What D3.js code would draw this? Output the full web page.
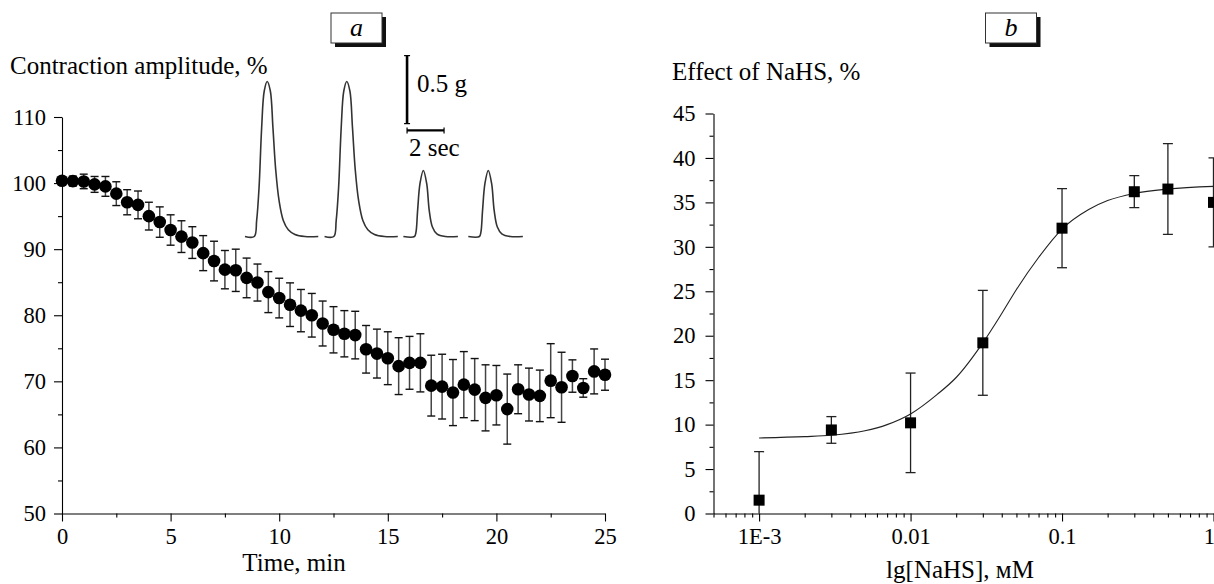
<!DOCTYPE html>
<html>
<head>
<meta charset="utf-8">
<script src="https://cdn.jsdelivr.net/npm/d3@7"></script>
<style>
  body { margin: 0; background: #fff; }
  svg text { font-family: "Liberation Serif", "DejaVu Serif", serif !important; fill: #000; }
</style>
</head>
<body>
<svg id="canvas" width="1214" height="584" font-family="Liberation Serif"></svg>
<script>
// panel a: contraction amplitude over time
const timeMin = [0, 0.5, 1, 1.5, 2, 2.5, 3, 3.5, 4, 4.5, 5, 5.5, 6, 6.5, 7, 7.5, 8, 8.5, 9, 9.5,
  10, 10.5, 11, 11.5, 12, 12.5, 13, 13.5, 14, 14.5, 15, 15.5, 16, 16.5, 17, 17.5, 18, 18.5, 19, 19.5,
  20, 20.5, 21, 21.5, 22, 22.5, 23, 23.5, 24, 24.5, 25];
const amplitude = [100.35, 100.3, 100.25, 99.8, 99.5, 98.4, 97.1, 96.7, 95.0, 94.1, 92.9, 91.9, 91.0, 89.4,
  88.2, 86.9, 86.8, 85.65, 84.95, 83.5, 82.6, 81.6, 80.7, 80.0, 78.75, 77.8, 77.2, 77.0, 74.85, 74.2,
  73.5, 72.3, 72.8, 72.8, 69.35, 69.2, 68.3, 69.5, 68.75, 67.5, 67.9, 65.8, 68.8, 68.0, 67.8, 70.1,
  69.1, 70.8, 69.0, 71.5, 71.0];
const amplitudeErr = [0.6, 0.76, 1.1, 1.2, 1.5, 1.8, 1.9, 2.1, 2.1, 2.3, 2.3, 2.4, 2.4, 2.65, 3.0, 2.9,
  3.2, 3.0, 2.8, 3.1, 3.0, 3.3, 3.2, 3.3, 3.4, 3.5, 3.5, 3.6, 3.6, 3.7, 4.0, 4.3, 4.0, 4.4, 4.6, 4.9,
  5.0, 5.0, 4.7, 5.0, 4.5, 5.3, 3.7, 4.0, 3.9, 5.6, 5.3, 2.45, 1.4, 3.4, 2.35];
const timeTicks = [0, 5, 10, 15, 20, 25];
const amplitudeTicks = [50, 60, 70, 80, 90, 100, 110];

// inset traces: [seconds from sweep start, grams]
const bigTwitch = [[0, 0], [0.5, 0], [0.63, 0.118], [0.76, 0.36], [0.9, 0.8], [1.04, 1.07], [1.2, 1.14],
  [1.37, 1.07], [1.51, 0.8], [1.66, 0.49], [1.84, 0.265], [2.07, 0.118], [2.34, 0.05], [2.7, 0.015],
  [3.24, 0], [3.96, 0]];
const smallTwitch = [[0, 0], [0.6, 0], [0.68, 0.03], [0.77, 0.19], [0.9, 0.39], [1.08, 0.485], [1.26, 0.39],
  [1.4, 0.19], [1.57, 0.07], [1.81, 0.02], [2.27, 0], [2.95, 0]];
const sweepStart = [0, 4.3, 8.56, 12.07];
const sweepShape = [bigTwitch, bigTwitch, smallTwitch, smallTwitch];

// panel b: concentration-effect
const nahsConc = [0.001, 0.003, 0.01, 0.03, 0.1, 0.3, 0.5, 1];
const nahsEffect = [1.5, 9.4, 10.2, 19.2, 32.1, 36.2, 36.5, 35.0];
const nahsErr = [5.45, 1.5, 5.6, 5.9, 4.45, 1.8, 5.1, 5.0];
const fitConc = [0.001, 0.002, 0.003, 0.005, 0.007, 0.01, 0.015, 0.02, 0.03, 0.04, 0.05, 0.07, 0.1,
  0.15, 0.2, 0.3, 0.5, 1];
const fitEffect = [8.5, 8.65, 8.8, 9.3, 10.0, 11.2, 13.4, 15.3, 19.2, 22.5, 25.2, 28.8, 32.0,
  34.2, 35.2, 36.0, 36.5, 36.8];
const concTicks = [0.001, 0.01, 0.1, 1];
const concLabels = ["1E-3", "0.01", "0.1", "1"];
const effectTicks = [0, 5, 10, 15, 20, 25, 30, 35, 40, 45];

const FONT = "'Liberation Serif', 'DejaVu Serif', serif";
const canvas = d3.select("#canvas");

const xA = d3.scaleLinear().domain([0, 25]).range([62, 605]);
const yA = d3.scaleLinear().domain([50, 110]).range([513.5, 117]);
const xB = d3.scaleLog().domain([0.0005, 1]).range([713.5, 1213.5]);
const yB = d3.scaleLinear().domain([0, 45]).range([513.5, 113.5]);

const styleAxis = (sel) => {
  sel.attr("font-family", FONT);
  sel.selectAll("path, line").attr("stroke", "#000").attr("stroke-width", 1.1);
  sel.selectAll("text").attr("font-size", 22.5).style("font-family", FONT);
};
const label = (parent, x, y, size, txt) =>
  parent.append("text").attr("x", x).attr("y", y).attr("font-size", size)
    .style("font-family", FONT).text(txt);

// ---- panel a axes
const gA = canvas.append("g");
gA.append("g")
  .attr("transform", `translate(0,${yA(50)})`)
  .call(d3.axisBottom(xA).tickValues(timeTicks).tickSize(8).tickSizeOuter(0).tickPadding(7))
  .call(styleAxis);
gA.append("g")
  .attr("transform", `translate(0,${yA(50)})`)
  .call(d3.axisBottom(xA).tickValues([2.5, 7.5, 12.5, 17.5, 22.5]).tickSize(4).tickFormat(""))
  .call(styleAxis)
  .select(".domain").remove();
gA.append("g")
  .attr("transform", `translate(${xA(0)},0)`)
  .call(d3.axisLeft(yA).tickValues(amplitudeTicks).tickSize(8).tickSizeOuter(0).tickPadding(8))
  .call(styleAxis);
gA.append("g")
  .attr("transform", `translate(${xA(0)},0)`)
  .call(d3.axisLeft(yA).tickValues([55, 65, 75, 85, 95, 105]).tickSize(4).tickFormat(""))
  .call(styleAxis)
  .select(".domain").remove();

label(gA, 10, 74, 25, "Contraction amplitude, %");
label(gA, 294, 571, 25, "Time, min").attr("text-anchor", "middle");

// error bars and points
const ptsA = gA.append("g").selectAll("g").data(timeMin).join("g");
ptsA.append("line")
  .attr("x1", (d) => xA(d)).attr("x2", (d) => xA(d))
  .attr("y1", (d, i) => yA(amplitude[i] + amplitudeErr[i]))
  .attr("y2", (d, i) => yA(amplitude[i] - amplitudeErr[i]))
  .attr("stroke", "#444").attr("stroke-width", 1.5);
[1, -1].forEach((s) => {
  ptsA.append("line")
    .attr("x1", (d) => xA(d) - 4).attr("x2", (d) => xA(d) + 4)
    .attr("y1", (d, i) => yA(amplitude[i] + s * amplitudeErr[i]))
    .attr("y2", (d, i) => yA(amplitude[i] + s * amplitudeErr[i]))
    .attr("stroke", "#111").attr("stroke-width", 1.4);
});
ptsA.append("circle")
  .attr("cx", (d) => xA(d))
  .attr("cy", (d, i) => yA(amplitude[i]))
  .attr("r", 6.3)
  .attr("fill", "#000");

// ---- inset with twitch recordings
const xI = d3.scaleLinear().domain([0, 1]).range([245, 263.5]);
const yI = d3.scaleLinear().domain([0, 1]).range([236.5, 100.5]);
const trace = d3.line().x((d) => xI(d[0])).y((d) => yI(d[1])).curve(d3.curveCatmullRom);
const inset = canvas.append("g");
sweepStart.forEach((t0, k) => {
  inset.append("path")
    .attr("d", trace(sweepShape[k].map((p) => [t0 + p[0], p[1]])))
    .attr("fill", "none").attr("stroke", "#333").attr("stroke-width", 1.6);
});
// scale bars: 0.5 g and 2 sec
const barX = xI(8.76), barY = yI(0.83);
inset.append("line").attr("x1", barX).attr("x2", barX).attr("y1", barY).attr("y2", yI(1.33))
  .attr("stroke", "#000").attr("stroke-width", 2.6);
[barY, yI(1.33)].forEach((y) => {
  inset.append("line").attr("x1", barX - 3).attr("x2", barX + 3).attr("y1", y).attr("y2", y)
    .attr("stroke", "#000").attr("stroke-width", 1.2);
});
const hy = yI(0.78);
inset.append("line").attr("x1", barX).attr("x2", xI(10.76)).attr("y1", hy).attr("y2", hy)
  .attr("stroke", "#000").attr("stroke-width", 2.4);
[barX, xI(10.76)].forEach((x) => {
  inset.append("line").attr("x1", x).attr("x2", x).attr("y1", hy - 3).attr("y2", hy + 3)
    .attr("stroke", "#000").attr("stroke-width", 1.2);
});
label(inset, barX + 10, 92, 25, "0.5 g");
label(inset, barX + 2, 156, 25, "2 sec");

// ---- panel b axes
const gB = canvas.append("g");
const minorConc = [];
[0.0001, 0.001, 0.01, 0.1].forEach((dec) => {
  [2, 3, 4, 5, 6, 7, 8, 9].forEach((m) => {
    const v = +(dec * m).toPrecision(3);
    if (v >= 0.0005 && v < 1) minorConc.push(v);
  });
});
gB.append("g")
  .attr("transform", `translate(0,${yB(0)})`)
  .call(d3.axisBottom(xB).tickValues(concTicks).tickSize(8).tickSizeOuter(0).tickPadding(7)
    .tickFormat((d, i) => concLabels[i]))
  .call(styleAxis)
  .call((g) => g.selectAll(".tick:last-of-type text").attr("text-anchor", "end").attr("dx", 1));
gB.append("g")
  .attr("transform", `translate(0,${yB(0)})`)
  .call(d3.axisBottom(xB).tickValues(minorConc).tickSize(4).tickFormat(""))
  .call(styleAxis)
  .select(".domain").remove();
gB.append("g")
  .attr("transform", `translate(${xB(0.0005)},0)`)
  .call(d3.axisLeft(yB).tickValues(effectTicks).tickSize(8).tickSizeOuter(0).tickPadding(10))
  .call(styleAxis);
gB.append("g")
  .attr("transform", `translate(${xB(0.0005)},0)`)
  .call(d3.axisLeft(yB).tickValues([2.5, 7.5, 12.5, 17.5, 22.5, 27.5, 32.5, 37.5, 42.5]).tickSize(4).tickFormat(""))
  .call(styleAxis)
  .select(".domain").remove();

label(gB, 672, 80, 25, "Effect of NaHS, %");
label(gB, 960, 578, 25, "lg[NaHS], мМ").attr("text-anchor", "middle");

canvas.append("clipPath").attr("id", "clipB")
  .append("rect").attr("x", xB(0.0005)).attr("y", 90).attr("width", 520).attr("height", yB(0) - 90);
const plotB = gB.append("g").attr("clip-path", "url(#clipB)");

plotB.append("path")
  .datum(fitConc)
  .attr("d", d3.line().x((d) => xB(d)).y((d, i) => yB(fitEffect[i])).curve(d3.curveMonotoneX))
  .attr("fill", "none").attr("stroke", "#222").attr("stroke-width", 1.1);

const ptsB = plotB.append("g").selectAll("g").data(nahsConc).join("g");
ptsB.append("line")
  .attr("x1", (d) => xB(d)).attr("x2", (d) => xB(d))
  .attr("y1", (d, i) => yB(nahsEffect[i] + nahsErr[i]))
  .attr("y2", (d, i) => yB(nahsEffect[i] - nahsErr[i]))
  .attr("stroke", "#222").attr("stroke-width", 1.3);
[1, -1].forEach((s) => {
  ptsB.append("line")
    .attr("x1", (d) => xB(d) - 5).attr("x2", (d) => xB(d) + 5)
    .attr("y1", (d, i) => yB(nahsEffect[i] + s * nahsErr[i]))
    .attr("y2", (d, i) => yB(nahsEffect[i] + s * nahsErr[i]))
    .attr("stroke", "#222").attr("stroke-width", 1.3);
});
ptsB.append("rect")
  .attr("x", (d) => xB(d) - 5.5)
  .attr("y", (d, i) => yB(nahsEffect[i]) - 5.5)
  .attr("width", 11).attr("height", 11)
  .attr("fill", "#000");

// ---- panel letters in shadowed boxes
const panelBox = (x, letter) => {
  const g = canvas.append("g");
  g.append("rect").attr("x", x + 4).attr("y", 17).attr("width", 51).attr("height", 30).attr("fill", "#111");
  g.append("rect").attr("x", x).attr("y", 13).attr("width", 51).attr("height", 30)
    .attr("fill", "#fff").attr("stroke", "#333").attr("stroke-width", 1);
  label(g, x + 25.5, 36, 26, letter).attr("text-anchor", "middle").attr("font-style", "italic");
};
panelBox(331, "a");
panelBox(985.5, "b");
</script>
</body>
</html>
